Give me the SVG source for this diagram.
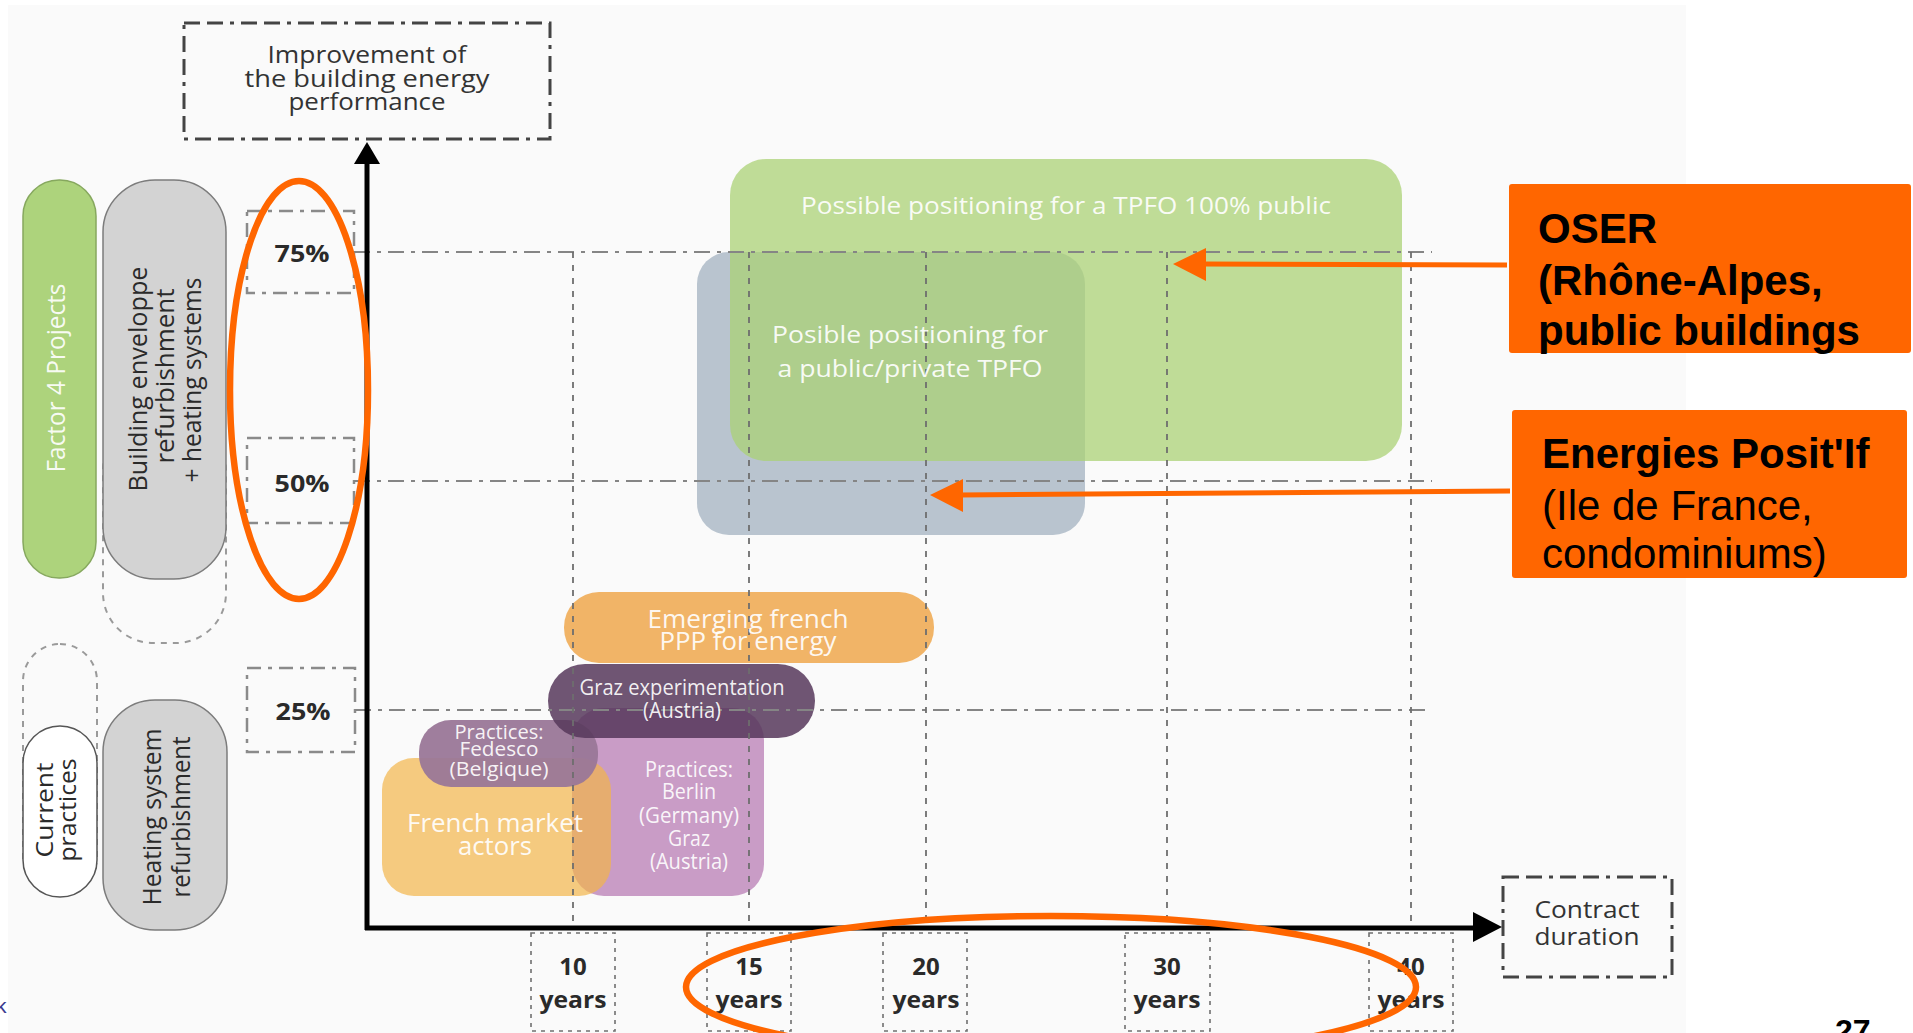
<svg xmlns="http://www.w3.org/2000/svg" width="1913" height="1033" viewBox="0 0 1913 1033">
<style>
.f{font-family:"Open Sans","DejaVu Sans",sans-serif;}
.dk{fill:#2a2a2a;}
.wh{fill:#ffffff;fill-opacity:0.92;}
.bold{font-weight:700;}
.ar{font-family:"Liberation Sans",Arial,sans-serif;fill:#000;}
.ttl{fill:none;stroke:#444;stroke-width:3;stroke-dasharray:16 7 16 7 4 7;}
.pbox{fill:none;stroke:#8a8a8a;stroke-width:2.5;stroke-dasharray:14 7 4 7;}
.hgrid{fill:none;stroke:#858585;stroke-width:2;stroke-dasharray:16 7 4 7;}
.vgrid{fill:none;stroke:#6e6e6e;stroke-width:1.8;stroke-dasharray:6 7;}
.ybox{fill:none;stroke:#707070;stroke-width:1.6;stroke-dasharray:4 5;}
.dpill{fill:none;stroke:#9a9a9a;stroke-width:2;stroke-dasharray:6 6;}
.axis{stroke:#000;stroke-width:5;fill:none;}
.oline{stroke:#FF6600;stroke-width:5;fill:none;}
.oell{stroke:#FF6600;stroke-width:6.5;fill:none;}
</style>
<rect x="0" y="0" width="1913" height="1033" fill="#ffffff"/>
<rect x="8" y="5" width="1678" height="1028" fill="#fafafa"/>

<!-- left category pills -->
<g id="dash-upper">
<rect class="dpill" x="103" y="420" width="123" height="223" rx="50"/>
</g>
<g id="dash-lower">
<rect class="dpill" x="23" y="644" width="74" height="250" rx="37"/>
</g>
<g id="factor4">
<rect x="23" y="180" width="73" height="398" rx="36" fill="#ADD37C" stroke="#86A85E" stroke-width="1.5"/>
<text class="f wh" transform="translate(65,378) rotate(-90)" text-anchor="middle" font-size="25" textLength="189" lengthAdjust="spacingAndGlyphs">Factor 4 Projects</text>
</g>
<g id="envelope">
<rect x="103" y="180" width="123" height="399" rx="52" fill="#D3D3D3" stroke="#7c7c7c" stroke-width="1.5"/>
<text class="f dk" transform="translate(147,379) rotate(-90)" text-anchor="middle" font-size="26" textLength="225" lengthAdjust="spacingAndGlyphs">Building enveloppe</text>
<text class="f dk" transform="translate(174,376) rotate(-90)" text-anchor="middle" font-size="26" textLength="175" lengthAdjust="spacingAndGlyphs">refurbishment</text>
<text class="f dk" transform="translate(201,380) rotate(-90)" text-anchor="middle" font-size="26" textLength="205" lengthAdjust="spacingAndGlyphs">+ heating systems</text>
</g>
<g id="current">
<rect x="23" y="726" width="74" height="171" rx="37" fill="#ffffff" stroke="#555" stroke-width="1.5"/>
<text class="f dk" transform="translate(53,810) rotate(-90)" text-anchor="middle" font-size="24" textLength="95" lengthAdjust="spacingAndGlyphs">Current</text>
<text class="f dk" transform="translate(76,810) rotate(-90)" text-anchor="middle" font-size="24" textLength="103" lengthAdjust="spacingAndGlyphs">practices</text>
</g>
<g id="heating">
<rect x="103" y="700" width="124" height="230" rx="52" fill="#D3D3D3" stroke="#7c7c7c" stroke-width="1.5"/>
<text class="f dk" transform="translate(161,817) rotate(-90)" text-anchor="middle" font-size="26" textLength="177" lengthAdjust="spacingAndGlyphs">Heating system</text>
<text class="f dk" transform="translate(190,817) rotate(-90)" text-anchor="middle" font-size="26" textLength="161" lengthAdjust="spacingAndGlyphs">refurbishment</text>
</g>

<!-- axis titles -->
<g id="ytitle">
<rect class="ttl" x="184" y="23" width="366" height="116"/>
<text class="f" fill="#333" x="367" y="63" text-anchor="middle" font-size="24" textLength="199" lengthAdjust="spacingAndGlyphs">Improvement of</text>
<text class="f" fill="#333" x="367" y="87" text-anchor="middle" font-size="24" textLength="245" lengthAdjust="spacingAndGlyphs">the building energy</text>
<text class="f" fill="#333" x="367" y="110" text-anchor="middle" font-size="24" textLength="157" lengthAdjust="spacingAndGlyphs">performance</text>
</g>
<g id="xtitle">
<rect class="ttl" x="1503" y="877" width="169" height="100"/>
<text class="f" fill="#333" x="1587" y="918" text-anchor="middle" font-size="24" textLength="105" lengthAdjust="spacingAndGlyphs">Contract</text>
<text class="f" fill="#333" x="1587" y="945" text-anchor="middle" font-size="24" textLength="105" lengthAdjust="spacingAndGlyphs">duration</text>
</g>

<!-- percentage labels -->
<g id="p75">
<rect class="pbox" x="247" y="211" width="107" height="82"/>
<text class="f bold dk" x="302" y="262" text-anchor="middle" font-size="24" textLength="55" lengthAdjust="spacingAndGlyphs">75%</text>
</g>
<g id="p50">
<rect class="pbox" x="247" y="438" width="107" height="85"/>
<text class="f bold dk" x="302" y="492" text-anchor="middle" font-size="24" textLength="55" lengthAdjust="spacingAndGlyphs">50%</text>
</g>
<g id="p25">
<rect class="pbox" x="247" y="668" width="108" height="84"/>
<text class="f bold dk" x="303" y="720" text-anchor="middle" font-size="24" textLength="55" lengthAdjust="spacingAndGlyphs">25%</text>
</g>

<!-- year labels -->
<g id="y10"><rect class="ybox" x="531" y="933" width="84" height="98"/>
<text class="f bold dk" x="573" y="975" text-anchor="middle" font-size="24">10</text>
<text class="f bold dk" x="573" y="1008" text-anchor="middle" font-size="24" textLength="67" lengthAdjust="spacingAndGlyphs">years</text></g>
<g id="y15"><rect class="ybox" x="707" y="933" width="84" height="98"/>
<text class="f bold dk" x="749" y="975" text-anchor="middle" font-size="24">15</text>
<text class="f bold dk" x="749" y="1008" text-anchor="middle" font-size="24" textLength="67" lengthAdjust="spacingAndGlyphs">years</text></g>
<g id="y20"><rect class="ybox" x="883" y="933" width="84" height="98"/>
<text class="f bold dk" x="926" y="975" text-anchor="middle" font-size="24">20</text>
<text class="f bold dk" x="926" y="1008" text-anchor="middle" font-size="24" textLength="67" lengthAdjust="spacingAndGlyphs">years</text></g>
<g id="y30"><rect class="ybox" x="1125" y="933" width="85" height="98"/>
<text class="f bold dk" x="1167" y="975" text-anchor="middle" font-size="24">30</text>
<text class="f bold dk" x="1167" y="1008" text-anchor="middle" font-size="24" textLength="67" lengthAdjust="spacingAndGlyphs">years</text></g>
<g id="y40"><rect class="ybox" x="1369" y="933" width="84" height="98"/>
<text class="f bold dk" x="1411" y="975" text-anchor="middle" font-size="24">40</text>
<text class="f bold dk" x="1411" y="1008" text-anchor="middle" font-size="24" textLength="67" lengthAdjust="spacingAndGlyphs">years</text></g>

<!-- positioning areas -->
<g id="public-private">
<rect x="697" y="252" width="388" height="283" rx="32" fill="#B9C4CF"/>
</g>
<g id="public100">
<rect x="730" y="159" width="672" height="302" rx="36" fill="#ABD276" fill-opacity="0.75"/>
</g>
<g id="berlin">
<rect x="572" y="708" width="192" height="188" rx="32" fill="#C99CC6"/>
</g>
<g id="french-market">
<rect x="382" y="758" width="229" height="138" rx="32" fill="#F2B54A" fill-opacity="0.7"/>
</g>
<g id="fedesco">
<rect x="419" y="720" width="179" height="67" rx="32" fill="#9A7798" fill-opacity="0.95"/>
</g>
<g id="graz">
<rect x="548" y="664" width="267" height="74" rx="37" fill="#56375A" fill-opacity="0.85"/>
</g>
<g id="emerging">
<rect x="564" y="592" width="370" height="71" rx="35" fill="#F1B467"/>
</g>

<!-- grid and axes -->
<g id="connectors">
<path class="hgrid" d="M354 252H1432M354 481H1432M355 710H1432"/>
<path class="vgrid" d="M573 252V928M749 252V928M926 252V928M1167 252V928M1411 252V928"/>
<path class="axis" d="M367 930V160"/>
<polygon points="367,142 354,164 380,164" fill="#000"/>
<path class="axis" d="M365 928H1476"/>
<polygon points="1502,927 1473,912 1473,942" fill="#000"/>
<path class="oline" d="M1507 265L1203 264"/>
<polygon points="1173,264 1206,248 1206,281" fill="#FF6600"/>
<path class="oline" d="M1510 491L960 495"/>
<polygon points="930,495 963,479 963,512" fill="#FF6600"/>
</g>

<!-- area labels -->
<text class="f wh" x="1066" y="214" text-anchor="middle" font-size="24" textLength="530" lengthAdjust="spacingAndGlyphs">Possible positioning for a TPFO 100% public</text>
<text class="f wh" x="910" y="343" text-anchor="middle" font-size="24" textLength="276" lengthAdjust="spacingAndGlyphs">Posible positioning for</text>
<text class="f wh" x="910" y="377" text-anchor="middle" font-size="24" textLength="265" lengthAdjust="spacingAndGlyphs">a public/private TPFO</text>
<text class="f wh" x="748" y="628" text-anchor="middle" font-size="26" textLength="201" lengthAdjust="spacingAndGlyphs">Emerging french</text>
<text class="f wh" x="748" y="650" text-anchor="middle" font-size="26" textLength="177" lengthAdjust="spacingAndGlyphs">PPP for energy</text>
<text class="f wh" x="682" y="695" text-anchor="middle" font-size="21" textLength="205" lengthAdjust="spacingAndGlyphs">Graz experimentation</text>
<text class="f wh" x="682" y="718" text-anchor="middle" font-size="21" textLength="78" lengthAdjust="spacingAndGlyphs">(Austria)</text>
<text class="f wh" x="689" y="777" text-anchor="middle" font-size="21" textLength="88" lengthAdjust="spacingAndGlyphs">Practices:</text>
<text class="f wh" x="689" y="799" text-anchor="middle" font-size="21" textLength="54" lengthAdjust="spacingAndGlyphs">Berlin</text>
<text class="f wh" x="689" y="823" text-anchor="middle" font-size="21" textLength="100" lengthAdjust="spacingAndGlyphs">(Germany)</text>
<text class="f wh" x="689" y="846" text-anchor="middle" font-size="21" textLength="42" lengthAdjust="spacingAndGlyphs">Graz</text>
<text class="f wh" x="689" y="869" text-anchor="middle" font-size="21" textLength="78" lengthAdjust="spacingAndGlyphs">(Austria)</text>
<text class="f wh" x="499" y="739" text-anchor="middle" font-size="20" textLength="89" lengthAdjust="spacingAndGlyphs">Practices:</text>
<text class="f wh" x="499" y="756" text-anchor="middle" font-size="20" textLength="79" lengthAdjust="spacingAndGlyphs">Fedesco</text>
<text class="f wh" x="499" y="776" text-anchor="middle" font-size="20" textLength="99" lengthAdjust="spacingAndGlyphs">(Belgique)</text>
<text class="f wh" x="495" y="832" text-anchor="middle" font-size="26" textLength="176" lengthAdjust="spacingAndGlyphs">French market</text>
<text class="f wh" x="495" y="855" text-anchor="middle" font-size="26" textLength="74" lengthAdjust="spacingAndGlyphs">actors</text>

<!-- callouts -->
<g id="oser">
<rect x="1509" y="184" width="402" height="169" rx="3" fill="#FF6600"/>
<text class="ar" x="1538" y="243" font-size="42" font-weight="700">OSER</text>
<text class="ar" x="1538" y="295" font-size="42" font-weight="700">(Rhône-Alpes,</text>
<text class="ar" x="1538" y="345" font-size="42" font-weight="700">public buildings</text>
</g>
<g id="energies">
<rect x="1512" y="410" width="395" height="168" rx="3" fill="#FF6600"/>
<text class="ar" x="1542" y="468" font-size="42" font-weight="700">Energies Posit'If</text>
<text class="ar" x="1542" y="520" font-size="42">(Ile de France,</text>
<text class="ar" x="1542" y="568" font-size="42">condominiums)</text>
</g>

<!-- highlight ellipses -->
<ellipse class="oell" cx="299" cy="390" rx="69" ry="209"/>
<ellipse class="oell" cx="1051" cy="987" rx="365" ry="71"/>

<text class="ar" x="1835" y="1042" font-size="32" font-weight="700">27</text>
<text class="ar" x="-4" y="1013" font-size="21" fill="#3A3A8F" style="fill:#3A3A8F">k</text>
</svg>
